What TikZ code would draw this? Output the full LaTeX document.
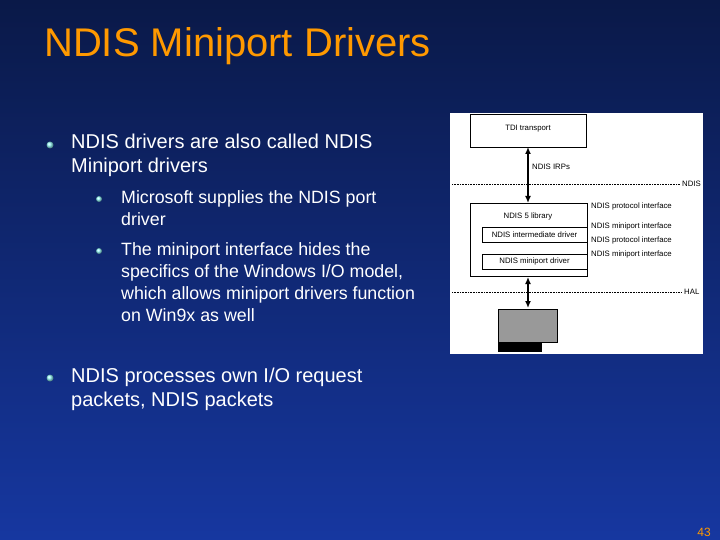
\documentclass[tikz,border=0pt]{standalone}
\usepackage{fontspec}
\setmainfont{Liberation Sans}
\usetikzlibrary{arrows.meta}
\definecolor{bgtop}{RGB}{10,25,72}
\definecolor{bgbot}{RGB}{22,55,160}
\definecolor{ttl}{RGB}{255,153,0}
\begin{document}
\begin{tikzpicture}[x=1pt,y=-1pt,
  bul/.style={circle,inner sep=0pt,minimum size=7pt,ball color=cyan!40!white},
  t1/.style={anchor=north west,text=white,font=\fontsize{20}{24}\selectfont,align=left,inner sep=0pt},
  t2/.style={anchor=north west,text=white,font=\fontsize{17.8}{22}\selectfont,align=left,inner sep=0pt},
  dbox/.style={draw=black,fill=white,line width=0.6pt},
  dl/.style={font=\fontsize{7.8}{9}\selectfont,inner sep=0pt},
  dar/.style={{Latex[length=7pt,width=6pt]}-{Latex[length=7pt,width=6pt]},line width=1.6pt},
  dot/.style={densely dotted,line width=0.6pt}]
\shade[top color=bgtop,bottom color=bgbot] (0,0) rectangle (720,540);
\useasboundingbox (0,0) rectangle (720,540);
\node[anchor=west,text=ttl,font=\fontsize{40}{46}\selectfont,inner sep=0pt] (title) at (44,46) {NDIS Miniport Drivers};
\node[bul] (b1) at (50,145) {};
\node[t1] (l1) at (71,134) {NDIS drivers are also called NDIS\\Miniport drivers};
\node[bul,minimum size=6pt] (b2) at (99,199) {};
\node[t2] (l2) at (121,190) {Microsoft supplies the NDIS port\\driver};
\node[bul,minimum size=6pt] (b3) at (99,251) {};
\node[t2] (l3) at (121,242) {The miniport interface hides the\\specifics of the Windows I/O model,\\which allows miniport drivers function\\on Win9x as well};
\node[bul] (b4) at (50,378) {};
\node[t1] (l4) at (71,368) {NDIS processes own I/O request\\packets, NDIS packets};
\node[anchor=east,text=ttl,font=\fontsize{12}{13}\selectfont,inner sep=0pt] (num) at (711,532) {43};
% diagram
\fill[white] (450,113) rectangle (703,354);
\draw[dbox] (470,114) rectangle (586,147);
\node[dl] (tdi) at (528,129) {TDI transport};
\coordinate (tdib) at (528,147);
\draw[dbox] (470,203) rectangle (587,276);
\coordinate (libt) at (528,203);
\node[dl] (lib) at (528,216) {NDIS 5 library};
\draw[dbox] (482,227) rectangle (587,242);
\node[dl] (inter) at (534.5,234.5) {NDIS intermediate driver};
\draw[dbox] (482,254) rectangle (587,269);
\node[dl] (mini) at (534.5,261.5) {NDIS miniport driver};
\draw[dar] (tdib) -- (libt);
\node[dl,anchor=west] (irp) at (532,167) {NDIS IRPs};
\draw[dot] (452,184) -- (680,184);
\node[dl,anchor=west] (ndis) at (682,184) {NDIS};
\node[dl,anchor=west] (p1) at (591,206) {NDIS protocol interface};
\node[dl,anchor=west] (m1) at (591,226) {NDIS miniport interface};
\node[dl,anchor=west] (p2) at (591,240) {NDIS protocol interface};
\node[dl,anchor=west] (m2) at (591,254) {NDIS miniport interface};
\coordinate (libb) at (528,277);
\coordinate (hw) at (528,308);
\draw[dar] (libb) -- (hw);
\draw[dot] (452,292) -- (682,292);
\node[dl,anchor=west] (hal) at (684,292) {HAL};
\fill[black] (498,340) rectangle (542,352);
\draw[fill=gray!80,line width=0.6pt] (498,309) rectangle (557,342);
\end{tikzpicture}
\end{document}
